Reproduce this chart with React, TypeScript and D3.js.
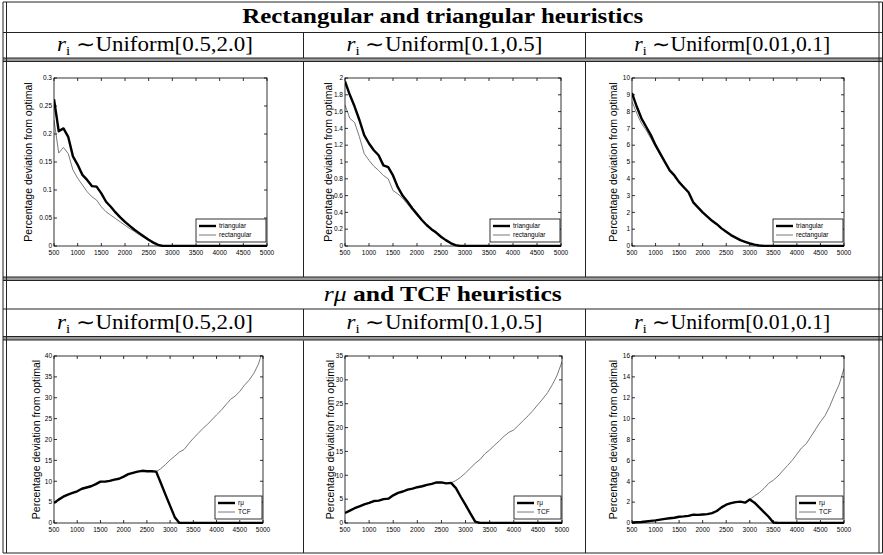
import React from 'react';
import * as d3 from 'd3';

// x grid shared by every panel (problem size)
const X_VALUES = [
  500, 600, 700, 800, 900, 1000, 1100, 1200, 1300, 1400,
  1500, 1600, 1700, 1800, 1900, 2000, 2100, 2200, 2300, 2400,
  2500, 2600, 2700, 2800, 2900, 3000, 3100, 3200, 3300, 3400,
  3500, 3600, 3700, 3800, 3900, 4000, 4100, 4200, 4300, 4400,
  4500, 4600, 4700, 4800, 4900, 5000,
];
const X_TICKS = [500, 1000, 1500, 2000, 2500, 3000, 3500, 4000, 4500, 5000];

// rectangular / triangular heuristics
const TRI_WIDE = [
  0.262, 0.205, 0.21, 0.195, 0.16, 0.145, 0.127, 0.118, 0.107, 0.106,
  0.094, 0.079, 0.07, 0.06, 0.051, 0.043, 0.036, 0.029, 0.023, 0.017,
  0.011, 0.006, 0.002, 0, 0, 0, 0, 0, 0, 0,
  0, 0, 0, 0, 0, 0, 0, 0, 0, 0,
  0, 0, 0, 0, 0, 0,
];
const RECT_WIDE = [
  0.225, 0.166, 0.176, 0.165, 0.136, 0.121, 0.109, 0.097, 0.088, 0.082,
  0.07, 0.061, 0.055, 0.049, 0.043, 0.037, 0.031, 0.026, 0.02, 0.015,
  0.01, 0.005, 0.002, 0, 0, 0, 0, 0, 0, 0,
  0, 0, 0, 0, 0, 0, 0, 0, 0, 0,
  0, 0, 0, 0, 0, 0,
];
const TRI_MID = [
  1.96, 1.8, 1.66, 1.5, 1.32, 1.22, 1.14, 1.08, 0.96, 0.94,
  0.84, 0.7, 0.6, 0.53, 0.45, 0.38, 0.31, 0.25, 0.2, 0.16,
  0.11, 0.07, 0.035, 0.01, 0, 0, 0, 0, 0, 0,
  0, 0, 0, 0, 0, 0, 0, 0, 0, 0,
  0, 0, 0, 0, 0, 0,
];
const RECT_MID = [
  1.68, 1.52, 1.47, 1.3, 1.1, 1.02, 0.95, 0.9, 0.84, 0.8,
  0.66, 0.62, 0.57, 0.5, 0.43, 0.36, 0.3, 0.24, 0.19, 0.15,
  0.1, 0.065, 0.03, 0.008, 0, 0, 0, 0, 0, 0,
  0, 0, 0, 0, 0, 0, 0, 0, 0, 0,
  0, 0, 0, 0, 0, 0,
];
const TRI_NARROW = [
  9.1, 8.3, 7.6, 7.1, 6.6, 6.0, 5.5, 5.0, 4.5, 4.2,
  3.8, 3.5, 3.2, 2.6, 2.3, 2.0, 1.75, 1.5, 1.3, 1.05,
  0.85, 0.65, 0.5, 0.35, 0.25, 0.15, 0.08, 0.03, 0.01, 0,
  0, 0, 0, 0, 0, 0, 0, 0, 0, 0,
  0, 0, 0, 0, 0, 0,
];
const RECT_NARROW = [
  8.6, 7.9, 7.3, 6.9, 6.4, 5.9, 5.4, 4.9, 4.5, 4.15,
  3.75, 3.45, 3.15, 2.6, 2.3, 2.0, 1.75, 1.5, 1.3, 1.05,
  0.85, 0.65, 0.5, 0.35, 0.25, 0.15, 0.08, 0.03, 0.01, 0,
  0, 0, 0, 0, 0, 0, 0, 0, 0, 0,
  0, 0, 0, 0, 0, 0,
];

// r-mu / TCF heuristics
const RMU_WIDE = [
  4.8, 5.6, 6.3, 6.8, 7.2, 7.6, 8.2, 8.5, 8.8, 9.3,
  9.9, 9.9, 10.1, 10.4, 10.6, 11.1, 11.7, 12.0, 12.3, 12.5,
  12.4, 12.4, 12.3, 9.6, 6.8, 4.1, 1.4, 0, 0, 0,
  0, 0, 0, 0, 0, 0, 0, 0, 0, 0,
  0, 0, 0, 0, 0, 0,
];
const TCF_WIDE = [
  4.8, 5.6, 6.3, 6.8, 7.2, 7.6, 8.2, 8.5, 8.8, 9.3,
  9.9, 9.9, 10.1, 10.4, 10.6, 11.1, 11.7, 12.0, 12.3, 12.5,
  12.4, 12.4, 12.3, 13.0, 14.0, 15.1, 16.0, 17.0, 17.6, 19.0,
  20.3, 21.4, 22.6, 23.6, 24.7, 25.9, 27.0, 28.3, 29.6, 30.4,
  31.5, 33.0, 34.2, 35.8, 38.0, 41.5,
];
const RMU_MID = [
  2.1, 2.6, 3.1, 3.5, 3.9, 4.2, 4.6, 4.7, 5.0, 5.1,
  5.8, 6.3, 6.6, 7.0, 7.2, 7.5, 7.7, 8.0, 8.2, 8.5,
  8.5, 8.3, 8.4, 7.3, 5.5, 3.8, 2.0, 0.3, 0, 0,
  0, 0, 0, 0, 0, 0, 0, 0, 0, 0,
  0, 0, 0, 0, 0, 0,
];
const TCF_MID = [
  2.1, 2.6, 3.1, 3.5, 3.9, 4.2, 4.6, 4.7, 5.0, 5.1,
  5.8, 6.3, 6.6, 7.0, 7.2, 7.5, 7.7, 8.0, 8.2, 8.5,
  8.5, 8.3, 8.4, 8.9, 9.6, 10.5, 11.5, 12.5, 13.3, 14.5,
  15.3, 16.3, 17.2, 18.2, 19.0, 19.5, 20.5, 21.5, 22.5, 23.6,
  24.8, 26.0, 27.3, 29.0, 31.0, 33.8,
];
const RMU_NARROW = [
  0.05, 0.07, 0.1, 0.15, 0.2, 0.25, 0.32, 0.4, 0.45, 0.5,
  0.6, 0.63, 0.68, 0.8, 0.78, 0.82, 0.85, 0.95, 1.15, 1.5,
  1.75, 1.9, 2.0, 2.05, 1.95, 2.25, 1.95, 1.5, 1.05, 0.6,
  0.05, 0, 0, 0, 0, 0, 0, 0, 0, 0,
  0, 0, 0, 0, 0, 0,
];
const TCF_NARROW = [
  0.05, 0.07, 0.1, 0.15, 0.2, 0.25, 0.32, 0.4, 0.45, 0.5,
  0.6, 0.63, 0.68, 0.8, 0.78, 0.82, 0.85, 0.95, 1.15, 1.5,
  1.75, 1.9, 2.0, 2.05, 1.95, 2.25, 2.6, 2.9, 3.3, 3.8,
  4.1, 4.5, 5.0, 5.5, 6.0, 6.6, 7.2, 7.6, 8.3, 9.0,
  9.7, 10.3, 11.2, 12.3, 13.3, 14.8,
];

const Y_TICKS_TOP_WIDE = [0, 0.05, 0.1, 0.15, 0.2, 0.25, 0.3];
const Y_TICKS_TOP_MID = [0, 0.2, 0.4, 0.6, 0.8, 1, 1.2, 1.4, 1.6, 1.8, 2];
const Y_TICKS_TOP_NARROW = [0, 1, 2, 3, 4, 5, 6, 7, 8, 9, 10];
const Y_TICKS_BOT_WIDE = [0, 5, 10, 15, 20, 25, 30, 35, 40];
const Y_TICKS_BOT_MID = [0, 5, 10, 15, 20, 25, 30, 35];
const Y_TICKS_BOT_NARROW = [0, 2, 4, 6, 8, 10, 12, 14, 16];

const TITLE_TOP = 'Rectangular and triangular heuristics';
const TITLE_BOTTOM = ' and TCF heuristics';
const RANGES = ['[0.5,2.0]', '[0.1,0.5]', '[0.01,0.1]'];
const LEGEND_TOP = ['triangular', 'rectangular'];
const LEGEND_BOTTOM = ['rμ', 'TCF'];
const Y_LABEL = 'Percentage deviation from optimal';

const SANS = 'Liberation Sans, Arial, sans-serif';
const SERIF = 'Liberation Serif, Times New Roman, serif';

type PanelProps = {
  id: string;
  box: number[];
  yTicks: number[];
  thick: number[];
  thin: number[];
  legend: string[];
  labelGap: number;
  legendW: number;
};

function Panel({ id, box, yTicks, thick, thin, legend, labelGap, legendW }: PanelProps) {
  const [l, t, r, b] = box;
  const x = d3.scaleLinear().domain([500, 5000]).range([l, r]);
  const y = d3.scaleLinear().domain([0, yTicks[yTicks.length - 1]]).range([b, t]);
  const line = d3.line<number>()
    .x((_, i) => x(X_VALUES[i]))
    .y(d => y(d));
  const tl = 3;
  const lgX = r - legendW - 1;
  const lgY = b - 27;
  return (
    <g>
      <defs>
        <clipPath id={id}>
          <rect x={l} y={t - 1} width={r - l} height={b - t + 2} />
        </clipPath>
      </defs>
      <rect x={l} y={t} width={r - l} height={b - t} fill="#fff" />
      <g clipPath={`url(#${id})`}>
        <path d={line(thin) || ''} fill="none" stroke="#6a6a6a" strokeWidth={0.9} />
        <path d={line(thick) || ''} fill="none" stroke="#000" strokeWidth={2.4} strokeLinejoin="round" />
      </g>
      {X_TICKS.map(v => (
        <g key={'x' + v}>
          <line x1={x(v)} x2={x(v)} y1={b} y2={b - tl} stroke="#000" strokeWidth={0.8} />
          <line x1={x(v)} x2={x(v)} y1={t} y2={t + tl} stroke="#000" strokeWidth={0.8} />
          <text x={x(v)} y={b + 8.5} fontSize={6.5} textAnchor="middle" fontFamily={SANS}>{v}</text>
        </g>
      ))}
      {yTicks.map(v => (
        <g key={'y' + v}>
          <line x1={l} x2={l + tl} y1={y(v)} y2={y(v)} stroke="#000" strokeWidth={0.8} />
          <line x1={r} x2={r - tl} y1={y(v)} y2={y(v)} stroke="#000" strokeWidth={0.8} />
          <text x={l - 2} y={y(v)} dy="0.35em" fontSize={6.5} textAnchor="end" fontFamily={SANS}>{String(v)}</text>
        </g>
      ))}
      <rect x={l} y={t} width={r - l} height={b - t} fill="none" stroke="#000" strokeWidth={0.8} />
      <text
        transform={`translate(${l - labelGap},${(t + b) / 2}) rotate(-90)`}
        textAnchor="middle" dy="0.35em" fontSize={10.5} fontFamily={SANS}
      >{Y_LABEL}</text>
      <g>
        <rect x={lgX} y={lgY} width={legendW} height={23} fill="#fff" stroke="#000" strokeWidth={0.8} />
        <line x1={lgX + 3} x2={lgX + 20} y1={lgY + 7} y2={lgY + 7} stroke="#000" strokeWidth={2.4} />
        <line x1={lgX + 3} x2={lgX + 20} y1={lgY + 16} y2={lgY + 16} stroke="#6a6a6a" strokeWidth={0.9} />
        <text x={lgX + 23} y={lgY + 7} dy="0.35em" fontSize={6.5} fontFamily={SANS}>{legend[0]}</text>
        <text x={lgX + 23} y={lgY + 16} dy="0.35em" fontSize={6.5} fontFamily={SANS}>{legend[1]}</text>
      </g>
    </g>
  );
}

function Subtitle({ cx, y, range }: { cx: number; y: number; range: string }) {
  return (
    <text x={cx} y={y} textAnchor="middle" fontFamily={SERIF} fontSize={20} textLength={196} lengthAdjust="spacingAndGlyphs">
      <tspan fontStyle="italic">r</tspan>
      <tspan fontSize={13} dy={4}>i</tspan>
      <tspan dy={-4}>{' ∼Uniform' + range}</tspan>
    </text>
  );
}

const App = () => {
  const W = 883, H = 555;
  const L1 = 3, L2 = 6.5, R1 = 879, R2 = 882.5;
  const C1 = 303.5, C2 = 585.5;
  const ink = '#222';
  const hline = (yy: number, k: string) => (
    <line key={k} x1={L1} x2={R2} y1={yy} y2={yy} stroke={ink} strokeWidth={1} />
  );
  const dbl = (yy: number, k: string) => (
    <g key={k}>
      <rect x={L1} y={yy} width={R2 - L1} height={3.5} fill="#9a9a9a" />
      {hline(yy, k + 'a')}
      {hline(yy + 3.5, k + 'b')}
    </g>
  );
  const vspans = [[32.5, 58], [62, 277], [309, 336.5], [340.5, 553]];
  const panels = [
    { box: [54, 78, 267, 246], yTicks: Y_TICKS_TOP_WIDE, thick: TRI_WIDE, thin: RECT_WIDE, legend: LEGEND_TOP, labelGap: 26, legendW: 70 },
    { box: [345, 78, 561, 246], yTicks: Y_TICKS_TOP_MID, thick: TRI_MID, thin: RECT_MID, legend: LEGEND_TOP, labelGap: 17, legendW: 70 },
    { box: [632, 78, 844, 246], yTicks: Y_TICKS_TOP_NARROW, thick: TRI_NARROW, thin: RECT_NARROW, legend: LEGEND_TOP, labelGap: 19, legendW: 70 },
    { box: [54, 356, 263, 523], yTicks: Y_TICKS_BOT_WIDE, thick: RMU_WIDE, thin: TCF_WIDE, legend: LEGEND_BOTTOM, labelGap: 18, legendW: 47 },
    { box: [345, 356, 562, 523], yTicks: Y_TICKS_BOT_MID, thick: RMU_MID, thin: TCF_MID, legend: LEGEND_BOTTOM, labelGap: 15, legendW: 47 },
    { box: [632, 356, 844, 523], yTicks: Y_TICKS_BOT_NARROW, thick: RMU_NARROW, thin: TCF_NARROW, legend: LEGEND_BOTTOM, labelGap: 19, legendW: 47 },
  ];
  const colCenters = [(L2 + C1) / 2, (C1 + C2) / 2, (C2 + R1) / 2];
  return (
    <svg width={W} height={H} style={{ position: 'absolute', left: 0, top: 0, background: '#fff' }}>
      <rect width={W} height={H} fill="#fff" />
      {panels.map((p, i) => <Panel key={i} id={'clip' + i} {...p} />)}

      {/* table rules */}
      {hline(2, 'top')}
      {hline(32.5, 'r1')}
      {dbl(58, 'd1')}
      {dbl(277, 'd2')}
      {hline(309, 'r2')}
      {dbl(336.5, 'd3')}
      {hline(553, 'bot')}
      {[L1, L2, R1, R2].map(xx => (
        <line key={'v' + xx} x1={xx} x2={xx} y1={2} y2={553} stroke={ink} strokeWidth={1} />
      ))}
      {vspans.map(([a, b], i) => (
        <g key={'div' + i}>
          <line x1={C1} x2={C1} y1={a} y2={b} stroke={ink} strokeWidth={1} />
          <line x1={C2} x2={C2} y1={a} y2={b} stroke={ink} strokeWidth={1} />
        </g>
      ))}

      <text x={(L1 + R2) / 2} y={23} textAnchor="middle" fontFamily={SERIF} fontWeight="bold" fontSize={21}
        textLength={401} lengthAdjust="spacingAndGlyphs">{TITLE_TOP}</text>
      {RANGES.map((rg, i) => <Subtitle key={'s1' + i} cx={colCenters[i]} y={51} range={rg} />)}

      <text x={(L1 + R2) / 2} y={301} textAnchor="middle" fontFamily={SERIF} fontSize={21}
        textLength={238} lengthAdjust="spacingAndGlyphs">
        <tspan fontStyle="italic">rμ</tspan>
        <tspan fontWeight="bold">{TITLE_BOTTOM}</tspan>
      </text>
      {RANGES.map((rg, i) => <Subtitle key={'s2' + i} cx={colCenters[i]} y={329} range={rg} />)}
    </svg>
  );
};

export default App;
